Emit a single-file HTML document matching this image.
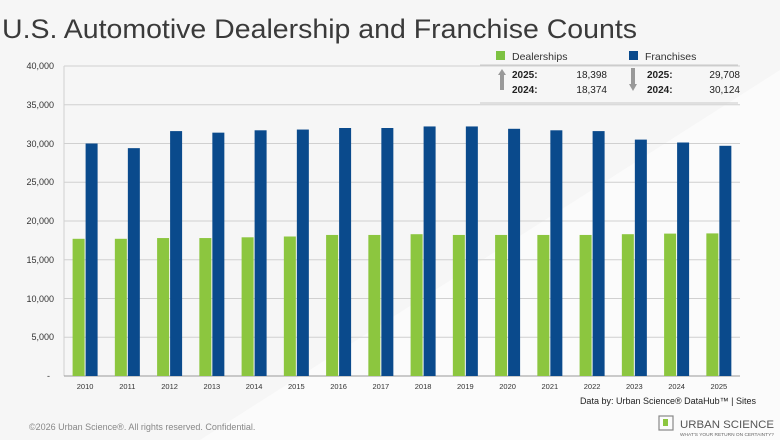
<!DOCTYPE html>
<html><head><meta charset="utf-8"><style>
html,body{margin:0;padding:0;width:780px;height:440px;overflow:hidden;background:#f7f7f7}
svg{display:block;font-family:"Liberation Sans",sans-serif}
</style></head><body>
<svg width="780" height="440" viewBox="0 0 780 440" xmlns="http://www.w3.org/2000/svg">
<rect width="780" height="440" fill="#f6f6f6"/>
<polygon points="780,70 780,440 200,440" fill="#fbfbfb"/>
<text x="2" y="38" font-size="27" fill="#3a3a3a" textLength="635" lengthAdjust="spacingAndGlyphs">U.S. Automotive Dealership and Franchise Counts</text>
<g stroke="#d0d0d0" stroke-width="1">
<line x1="64" y1="66" x2="740" y2="66"/><line x1="64" y1="104.75" x2="740" y2="104.75"/>
<line x1="64" y1="143.5" x2="740" y2="143.5"/><line x1="64" y1="182.25" x2="740" y2="182.25"/>
<line x1="64" y1="221" x2="740" y2="221"/><line x1="64" y1="259.75" x2="740" y2="259.75"/>
<line x1="64" y1="298.5" x2="740" y2="298.5"/><line x1="64" y1="337.25" x2="740" y2="337.25"/>
<line x1="64" y1="66" x2="64" y2="376"/>
</g>
<line x1="64" y1="376" x2="740" y2="376" stroke="#999" stroke-width="1"/>
<g font-size="9" fill="#333" text-anchor="end">
<text x="54" y="69">40,000</text><text x="54" y="108">35,000</text><text x="54" y="147">30,000</text>
<text x="54" y="185">25,000</text><text x="54" y="224">20,000</text><text x="54" y="263">15,000</text>
<text x="54" y="302">10,000</text><text x="54" y="340">5,000</text><text x="50" y="379">-</text>
</g>
<g fill="#8cc63f">
<rect x="72.6" y="238.8" width="12" height="137.2"/>
<rect x="114.85" y="238.8" width="12" height="137.2"/>
<rect x="157.1" y="238.05" width="12" height="137.95"/>
<rect x="199.35" y="238.05" width="12" height="137.95"/>
<rect x="241.6" y="237.3" width="12" height="138.7"/>
<rect x="283.85" y="236.5" width="12" height="139.5"/>
<rect x="326.1" y="234.95" width="12" height="141.05"/>
<rect x="368.35" y="234.95" width="12" height="141.05"/>
<rect x="410.6" y="234.2" width="12" height="141.8"/>
<rect x="452.85" y="234.95" width="12" height="141.05"/>
<rect x="495.1" y="234.95" width="12" height="141.05"/>
<rect x="537.35" y="234.95" width="12" height="141.05"/>
<rect x="579.6" y="234.95" width="12" height="141.05"/>
<rect x="621.85" y="234.2" width="12" height="141.8"/>
<rect x="664.1" y="233.6" width="12" height="142.4"/>
<rect x="706.35" y="233.4" width="12" height="142.6"/>
</g>
<g fill="#0a4a8c">
<rect x="85.6" y="143.5" width="12" height="232.5"/>
<rect x="127.85" y="148.15" width="12" height="227.85"/>
<rect x="170.1" y="131.1" width="12" height="244.9"/>
<rect x="212.35" y="132.65" width="12" height="243.35"/>
<rect x="254.6" y="130.3" width="12" height="245.7"/>
<rect x="296.85" y="129.55" width="12" height="246.45"/>
<rect x="339.1" y="128" width="12" height="248"/>
<rect x="381.35" y="128" width="12" height="248"/>
<rect x="423.6" y="126.45" width="12" height="249.55"/>
<rect x="465.85" y="126.45" width="12" height="249.55"/>
<rect x="508.1" y="128.8" width="12" height="247.2"/>
<rect x="550.35" y="130.3" width="12" height="245.7"/>
<rect x="592.6" y="131.1" width="12" height="244.9"/>
<rect x="634.85" y="139.6" width="12" height="236.4"/>
<rect x="677.1" y="142.5" width="12" height="233.5"/>
<rect x="719.35" y="145.8" width="12" height="230.2"/>
</g>
<g font-size="7.5" fill="#333" text-anchor="middle">
<text x="85.1" y="389">2010</text><text x="127.35" y="389">2011</text><text x="169.6" y="389">2012</text>
<text x="211.85" y="389">2013</text><text x="254.1" y="389">2014</text><text x="296.35" y="389">2015</text>
<text x="338.6" y="389">2016</text><text x="380.85" y="389">2017</text><text x="423.1" y="389">2018</text>
<text x="465.35" y="389">2019</text><text x="507.6" y="389">2020</text><text x="549.85" y="389">2021</text>
<text x="592.1" y="389">2022</text><text x="634.35" y="389">2023</text><text x="676.6" y="389">2024</text>
<text x="718.85" y="389">2025</text>
</g>
<rect x="496" y="51" width="9" height="9" fill="#7dc242"/>
<text x="512" y="60" font-size="10.5" fill="#333">Dealerships</text>
<rect x="629" y="51" width="9" height="9" fill="#0a4a8c"/>
<text x="645" y="60" font-size="10.5" fill="#333">Franchises</text>
<line x1="480" y1="65" x2="738" y2="65" stroke="#c8c8c8"/>
<line x1="480" y1="103" x2="738" y2="103" stroke="#c8c8c8"/>
<polygon points="498,75 502,69 506,75 504,75 504,90 500,90 500,75" fill="#999"/>
<polygon points="631,68 635,68 635,84 637,84 633,91 629,84 631,84" fill="#999"/>
<g font-size="10" fill="#222">
<text x="512" y="78" font-weight="bold">2025:</text><text x="607" y="78" text-anchor="end">18,398</text>
<text x="512" y="93" font-weight="bold">2024:</text><text x="607" y="93" text-anchor="end">18,374</text>
<text x="647" y="78" font-weight="bold">2025:</text><text x="740" y="78" text-anchor="end">29,708</text>
<text x="647" y="93" font-weight="bold">2024:</text><text x="740" y="93" text-anchor="end">30,124</text>
</g>
<text x="756" y="404" font-size="9" fill="#222" text-anchor="end">Data by: Urban Science® DataHub™ | Sites</text>
<text x="29" y="430" font-size="9" fill="#888">©2026 Urban Science®. All rights reserved. Confidential.</text>
<rect x="659" y="416" width="14" height="14" fill="none" stroke="#888" stroke-width="1.2"/>
<rect x="663" y="419" width="5" height="7" fill="#8cc63f"/>
<text x="680" y="428" font-size="11" fill="#555" textLength="94" lengthAdjust="spacingAndGlyphs">URBAN SCIENCE</text>
<text x="680" y="436" font-size="4.5" fill="#666" textLength="94" lengthAdjust="spacingAndGlyphs">WHAT'S YOUR RETURN ON CERTAINTY?</text>
</svg>
</body></html>
